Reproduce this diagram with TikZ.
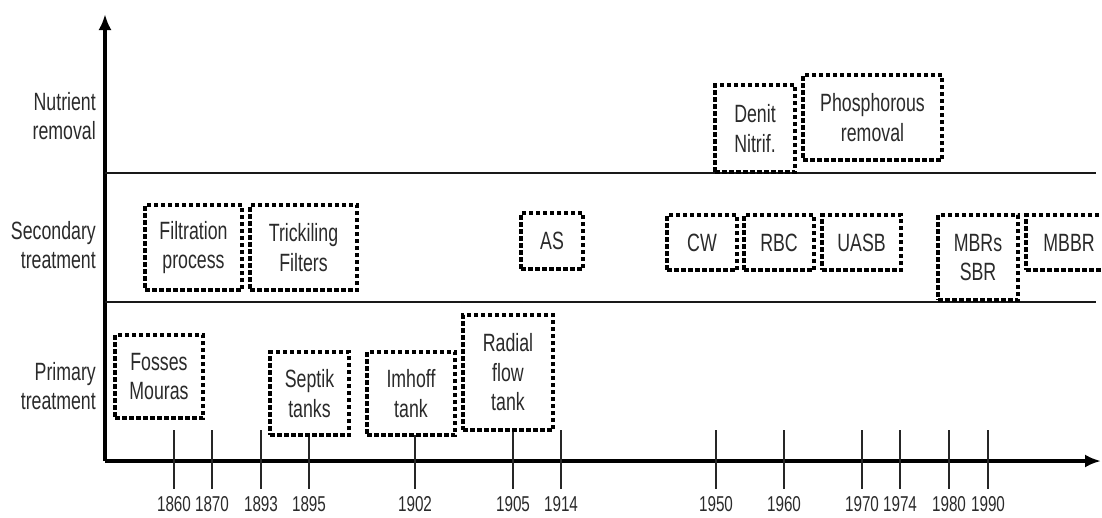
\documentclass[tikz,border=0pt]{standalone}
\usepackage{fontspec}
\setmainfont[FakeStretch=0.71]{Liberation Sans}
\usetikzlibrary{arrows.meta}
\definecolor{txt}{HTML}{2a2a2a}
\tikzset{
  box/.style={draw=black, line width=3.4pt, dash pattern=on 4.5pt off 2.5pt, fill=white,
    align=center, inner sep=0pt, font=\fontsize{25}{29.5}\selectfont, text=txt},
  rowlabel/.style={anchor=east, align=right, inner sep=0pt, font=\fontsize{25}{29.5}\selectfont, text=txt},
  axis/.style={line width=3.2pt, -{Latex[length=16pt,width=13pt]}},
  divider/.style={line width=2.6pt, black!90},
  tick/.style={line width=1.8pt, black!85},
  yearlabel/.style={inner sep=0pt, font=\fontsize{21.5}{22}\selectfont, text=txt}
}
\begin{document}
\begin{tikzpicture}[x=1pt,y=-1pt]
\useasboundingbox (0,0) rectangle (1102,517);
% axes
\coordinate (o) at (105,461);
\coordinate (ytop) at (105,14);
\coordinate (xend) at (1101,461);
\draw[axis] (o) -- (ytop);
\draw[axis] (o) -- (xend);
% dividers
\coordinate (d1a) at (105,173); \coordinate (d1b) at (1096,173);
\coordinate (d2a) at (105,302); \coordinate (d2b) at (1096,302);
\draw[divider] (d1a) -- (d1b);
\draw[divider] (d2a) -- (d2b);
% ticks
\foreach \x/\yr in {174/1860,212/1870,261/1893,309/1895,415/1902,513/1905,561/1914,716/1950,784/1960,862/1970,900/1974,949/1980,988/1990}{
  \coordinate (t\yr) at (\x,430);
  \node[yearlabel] (l\yr) at (\x,504) {\yr};
  \draw[tick] (t\yr) -- ([yshift=7pt]l\yr.north);
}
% row labels
\node[rowlabel] (nr) at (96,116) {Nutrient\\removal};
\node[rowlabel] (st) at (96,245) {Secondary\\treatment};
\node[rowlabel] (pt) at (96,386) {Primary\\treatment};
% boxes secondary
\node[box, minimum width=97pt, minimum height=85pt] (filt) at (193.5,247.5) {Filtration\\process};
\node[box, minimum width=107pt, minimum height=85pt] (trick) at (303.5,247.5) {Trickiling\\Filters};
\node[box, minimum width=62pt, minimum height=56pt] (as) at (552,241) {AS};
\node[box, minimum width=70pt, minimum height=55pt] (cw) at (702,242.5) {CW};
\node[box, minimum width=70pt, minimum height=55pt] (rbc) at (779,242.5) {RBC};
\node[box, minimum width=79pt, minimum height=55pt] (uasb) at (861.5,242.5) {UASB};
\node[box, minimum width=80pt, minimum height=85pt] (mbr) at (978,257.5) {MBRs\\SBR};
\node[box, minimum width=86pt, minimum height=55pt] (mbbr) at (1069,242.5) {MBBR};
% boxes primary
\node[box, minimum width=88pt, minimum height=83pt] (fosses) at (159,376.5) {Fosses\\Mouras};
\node[box, minimum width=79pt, minimum height=83pt] (septik) at (309.5,393.5) {Septik\\tanks};
\node[box, minimum width=88pt, minimum height=83pt] (imhoff) at (411,393.5) {Imhoff\\tank};
\node[box, minimum width=90pt, minimum height=115pt] (radial) at (508,372.5) {Radial\\flow\\tank};
% boxes nutrient
\node[box, minimum width=80pt, minimum height=87pt] (denit) at (755,128.5) {Denit\\Nitrif.};
\node[box, minimum width=139pt, minimum height=85pt] (phos) at (872.5,117.5) {Phosphorous\\removal};
\end{tikzpicture}
\end{document}
